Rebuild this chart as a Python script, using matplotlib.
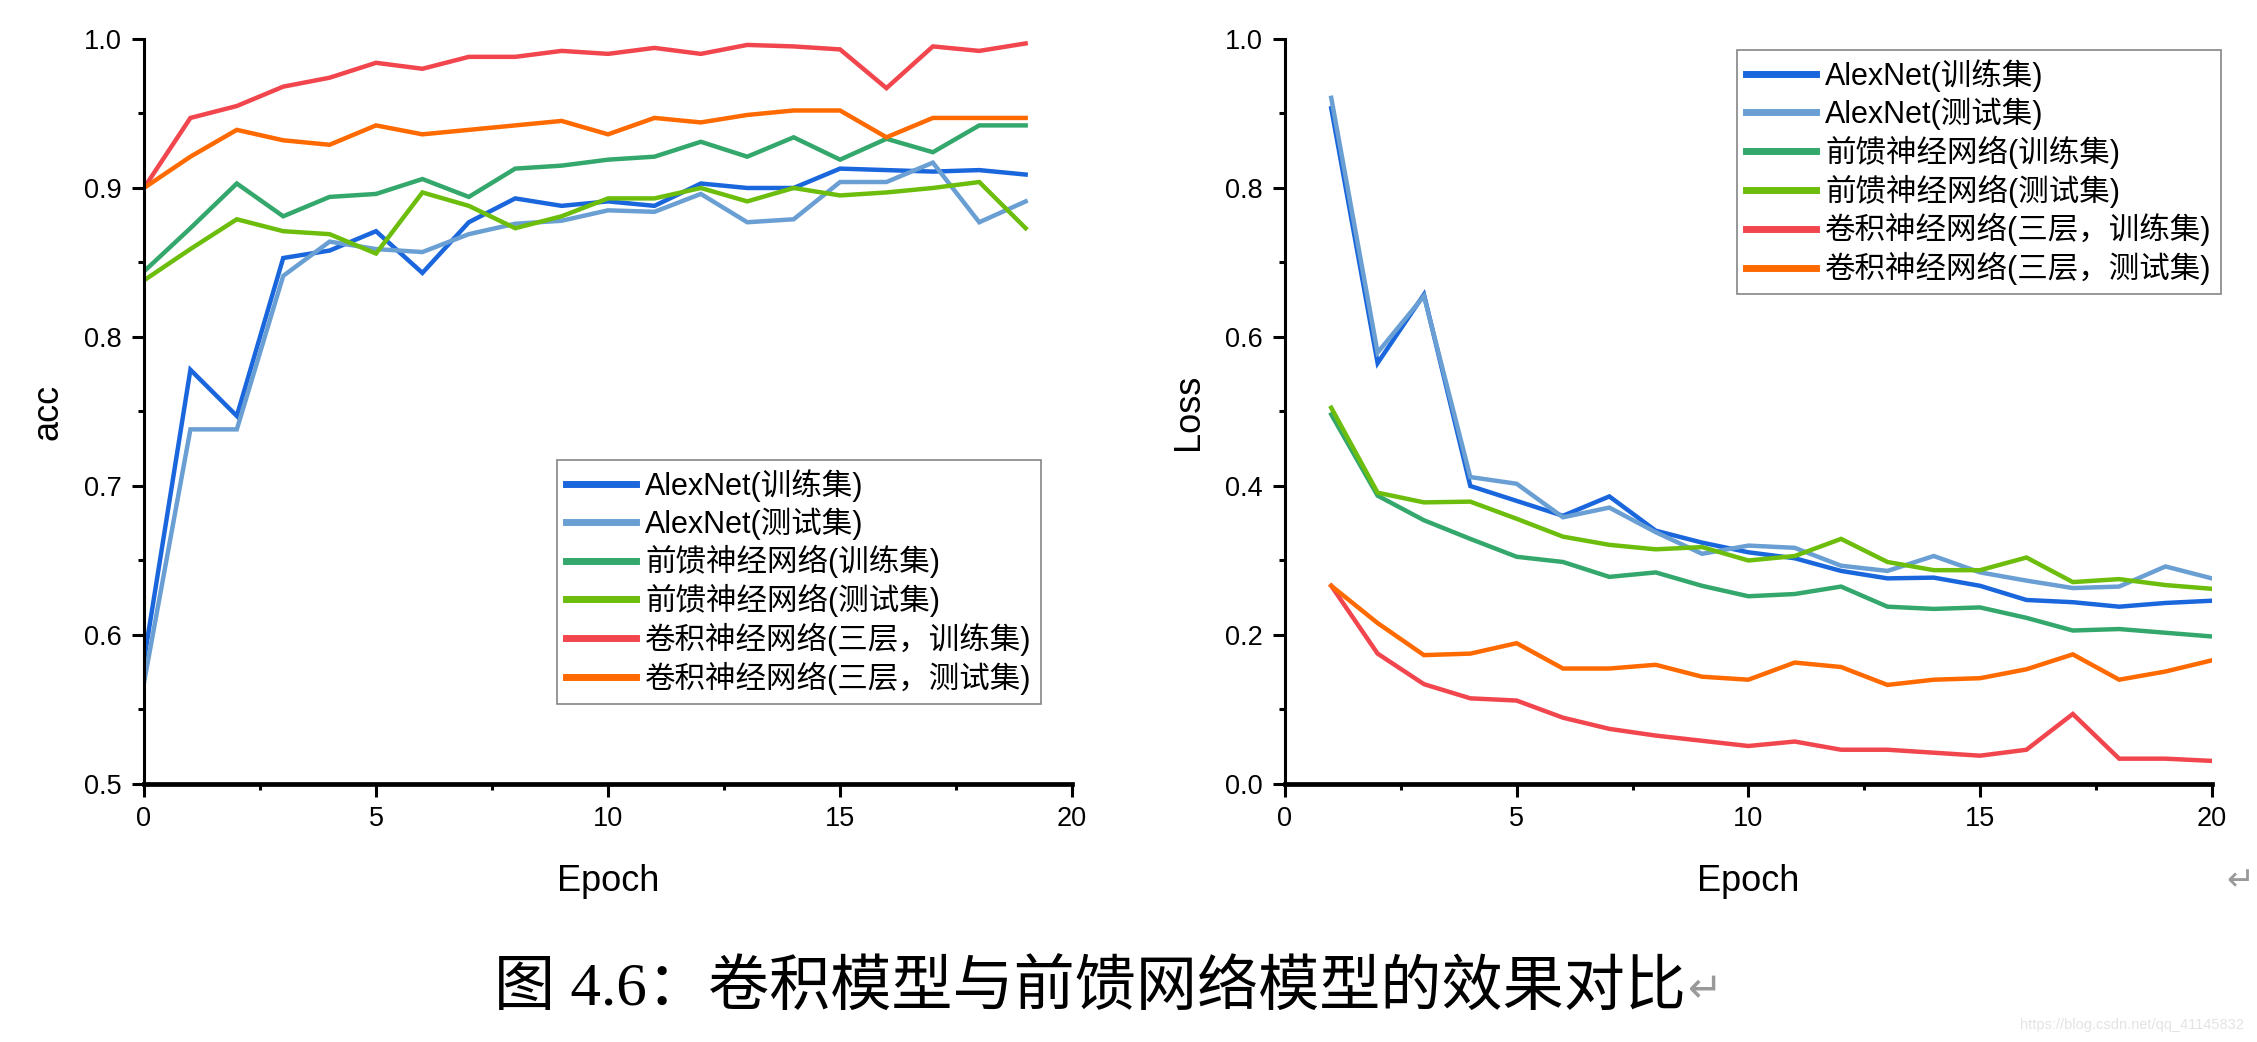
import matplotlib
matplotlib.use("Agg")
import matplotlib.pyplot as plt
from matplotlib.ticker import MultipleLocator
import numpy as np

plt.rcParams["font.family"] = ["Liberation Sans", "Noto Sans CJK SC", "DejaVu Sans"]

# ---- data ----
acc_epochs = np.arange(0, 20)
loss_epochs = np.arange(1, 21)

labels = [
    "AlexNet(训练集)",
    "AlexNet(测试集)",
    "前馈神经网络(训练集)",
    "前馈神经网络(测试集)",
    "卷积神经网络(三层，训练集)",
    "卷积神经网络(三层，测试集)",
]
colors = ["#1a66dd", "#6a9fd4", "#34a86c", "#6cbd0c", "#f2464e", "#ff6a00"]

acc_alex_train = [0.583, 0.778, 0.747, 0.853, 0.858, 0.871, 0.843, 0.877, 0.893, 0.888,
                  0.891, 0.888, 0.903, 0.900, 0.900, 0.913, 0.912, 0.911, 0.912, 0.909]
acc_alex_test = [0.568, 0.738, 0.738, 0.841, 0.864, 0.859, 0.857, 0.869, 0.876, 0.878,
                 0.885, 0.884, 0.896, 0.877, 0.879, 0.904, 0.904, 0.917, 0.877, 0.891]
acc_ff_train = [0.844, 0.873, 0.903, 0.881, 0.894, 0.896, 0.906, 0.894, 0.913, 0.915,
                0.919, 0.921, 0.931, 0.921, 0.934, 0.919, 0.933, 0.924, 0.942, 0.942]
acc_ff_test = [0.838, 0.859, 0.879, 0.871, 0.869, 0.856, 0.897, 0.888, 0.873, 0.881,
               0.893, 0.893, 0.900, 0.891, 0.900, 0.895, 0.897, 0.900, 0.904, 0.873]
acc_cnn_train = [0.900, 0.947, 0.955, 0.968, 0.974, 0.984, 0.980, 0.988, 0.988, 0.992,
                 0.990, 0.994, 0.990, 0.996, 0.995, 0.993, 0.967, 0.995, 0.992, 0.997]
acc_cnn_test = [0.900, 0.921, 0.939, 0.932, 0.929, 0.942, 0.936, 0.939, 0.942, 0.945,
                0.936, 0.947, 0.944, 0.949, 0.952, 0.952, 0.934, 0.947, 0.947, 0.947]

loss_alex_train = [0.907, 0.565, 0.657, 0.400, 0.380, 0.360, 0.386, 0.340, 0.324, 0.311,
                   0.303, 0.286, 0.276, 0.277, 0.266, 0.247, 0.244, 0.238, 0.243, 0.246]
loss_alex_test = [0.921, 0.579, 0.655, 0.412, 0.403, 0.358, 0.371, 0.338, 0.309, 0.320,
                  0.317, 0.293, 0.286, 0.306, 0.284, 0.273, 0.263, 0.265, 0.292, 0.276]
loss_ff_train = [0.496, 0.387, 0.354, 0.329, 0.305, 0.298, 0.278, 0.284, 0.266, 0.252,
                 0.255, 0.265, 0.238, 0.235, 0.237, 0.223, 0.206, 0.208, 0.203, 0.198]
loss_ff_test = [0.505, 0.391, 0.378, 0.379, 0.356, 0.332, 0.321, 0.315, 0.318, 0.300,
                0.306, 0.329, 0.298, 0.287, 0.287, 0.304, 0.271, 0.275, 0.267, 0.262]
loss_cnn_train = [0.266, 0.175, 0.134, 0.115, 0.112, 0.089, 0.074, 0.065, 0.058, 0.051,
                  0.057, 0.046, 0.046, 0.042, 0.038, 0.046, 0.094, 0.034, 0.034, 0.031]
loss_cnn_test = [0.266, 0.216, 0.173, 0.175, 0.189, 0.155, 0.155, 0.160, 0.144, 0.140,
                 0.163, 0.157, 0.133, 0.140, 0.142, 0.154, 0.174, 0.140, 0.151, 0.166]

acc_series = [acc_alex_train, acc_alex_test, acc_ff_train, acc_ff_test, acc_cnn_train, acc_cnn_test]
loss_series = [loss_alex_train, loss_alex_test, loss_ff_train, loss_ff_test, loss_cnn_train, loss_cnn_test]

caption = "图 4.6：卷积模型与前馈网络模型的效果对比"
watermark = "https://blog.csdn.net/qq_41145832"

fig = plt.figure(figsize=(22.57, 10.42), dpi=100)
ax_acc = fig.add_axes([0.0638, 0.2476, 0.4112, 0.715])
ax_loss = fig.add_axes([0.5693, 0.2476, 0.4107, 0.715])


def style_axis(ax, ymin, ymax, ymajor):
    ax.set_xlim(0, 20)
    ax.set_ylim(ymin, ymax)
    ax.xaxis.set_major_locator(MultipleLocator(5))
    ax.xaxis.set_minor_locator(MultipleLocator(2.5))
    ax.yaxis.set_major_locator(MultipleLocator(ymajor))
    ax.yaxis.set_minor_locator(MultipleLocator(ymajor / 2))
    for side in ("top", "right"):
        ax.spines[side].set_visible(False)
    ax.spines["left"].set_linewidth(2.2)
    ax.spines["bottom"].set_linewidth(3.4)
    ax.tick_params(which="major", direction="out", length=9, width=2.2,
                   labelsize=19.5, pad=7)
    ax.tick_params(which="minor", direction="out", length=4, width=2.2)
    ax.set_xlabel("Epoch", fontsize=26)
    ax.xaxis.set_label_coords(0.5, -0.107)


for vals, color in zip(acc_series, colors):
    ax_acc.plot(acc_epochs, vals, color=color, lw=3.2, solid_joinstyle="miter")
style_axis(ax_acc, 0.5, 1.0, 0.1)
ax_acc.yaxis.set_major_formatter(matplotlib.ticker.FormatStrFormatter("%.1f"))
ax_acc.set_ylabel("acc", fontsize=26)
ax_acc.yaxis.set_label_coords(-0.085, 0.5)

for vals, color in zip(loss_series, colors):
    ax_loss.plot(loss_epochs, vals, color=color, lw=3.2, solid_joinstyle="miter")
style_axis(ax_loss, 0.0, 1.0, 0.2)
ax_loss.yaxis.set_major_formatter(matplotlib.ticker.FormatStrFormatter("%.1f"))
ax_loss.set_ylabel("Loss", fontsize=26)
ax_loss.yaxis.set_label_coords(-0.085, 0.5)

leg_kw = dict(fontsize=22, frameon=True, fancybox=False, edgecolor="#666666",
              handlelength=2.3, handletextpad=0.3, labelspacing=0.18,
              borderpad=0.3, borderaxespad=0)
leg1 = ax_acc.legend(labels, loc="lower right", bbox_to_anchor=(0.9666, 0.1074), **leg_kw)
leg2 = ax_loss.legend(labels, loc="upper right",
                      bbox_to_anchor=(2221 / 2257, 1 - 50 / 1042),
                      bbox_transform=fig.transFigure, **leg_kw)
for leg in (leg1, leg2):
    leg.get_frame().set_linewidth(1.2)
    for h in leg.get_lines():
        h.set_linewidth(5)

fig.text(1686 / 2257, 1 - 990 / 1042, caption, ha="right", va="center", fontsize=44,
         family=["Liberation Serif", "Noto Sans CJK SC"])
fig.text(1688 / 2257, 1 - 990 / 1042, "↵", ha="left", va="center", fontsize=30,
         color="#999999", family=["DejaVu Sans"])
fig.text(2244 / 2257, 1 - 1025 / 1042, watermark, ha="right", va="center",
         fontsize=10.5, color="#e4e4e4")
fig.text(2226 / 2257, 1 - 881 / 1042, "↵", ha="left", va="center", fontsize=24,
         color="#999999", family=["DejaVu Sans"])

fig.savefig("out.png", dpi=100, facecolor="white")
